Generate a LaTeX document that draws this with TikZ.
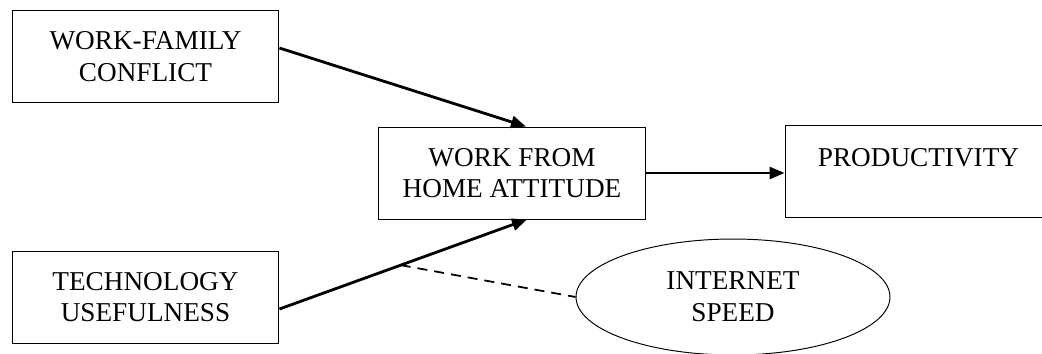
\documentclass[tikz,border=0pt]{standalone}
\usepackage{fontspec}
\setmainfont{Liberation Serif}
\usetikzlibrary{arrows.meta,shapes.geometric}

\begin{document}
\begin{tikzpicture}[x=0.02cm, y=-0.02cm, >={Triangle[length=0.3cm,width=0.24cm]}, font=\fontsize{15.5}{18}\selectfont,
    var/.style={draw, line width=0.55pt, minimum width=5.34cm, minimum height=1.84cm, inner sep=0pt, align=center},
    moderator/.style={draw, ellipse, line width=0.55pt, minimum width=6.28cm, minimum height=2.32cm, inner sep=0pt, align=center},
    effect/.style={->, line width=1.6pt}]
    \useasboundingbox (0,0) rectangle (1042,353);

    \node[var]                     (wfc)   at (145.5,56.5) {WORK-FAMILY\\CONFLICT};
    \node[var]                     (tech)  at (145.5,297)  {TECHNOLOGY\\USEFULNESS};
    \node[var]                     (wfh)   at (512,173)    {WORK FROM\\HOME ATTITUDE};
    \node[var, text depth=15pt]    (prod)  at (918.5,171)  {PRODUCTIVITY};
    \node[moderator]               (speed) at (733,297)    {INTERNET\\SPEED};

    % direct effects
    \draw[effect] ([yshift=0.17cm]wfc.east) -- ([xshift=0.28cm]wfh.north);
    \draw[effect] ([yshift=-0.24cm]tech.east) -- coordinate[pos=0.49] (mod) ([xshift=0.3cm]wfh.south);
    \draw[effect] (wfh.east) -- (wfh.east -| prod.west);

    % moderation
    \draw[line width=1pt, dash pattern=on 0.2cm off 0.14cm] (mod) -- (speed.west);
\end{tikzpicture}
\end{document}
